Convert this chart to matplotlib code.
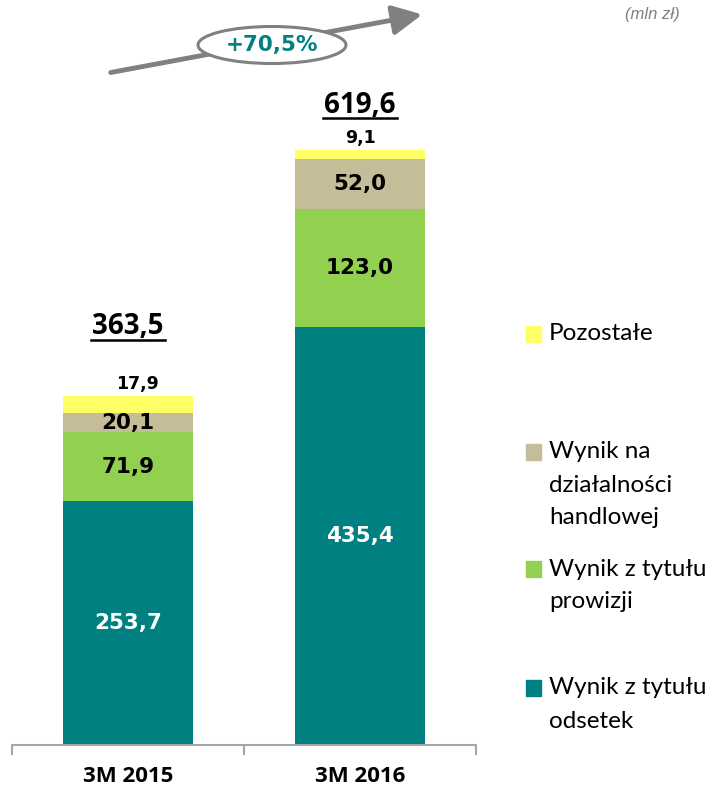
import numpy as np
import matplotlib.pyplot as plt
from matplotlib.patches import Ellipse, FancyArrowPatch, Rectangle
from matplotlib.lines import Line2D

# Data (mln zl)
categories = ['3M 2015', '3M 2016']
odsetki = [253.7, 435.4]
prowizje = [71.9, 123.0]
handlowa = [20.1, 52.0]
pozostale = [17.9, 9.1]
totals = ['363,5', '619,6']
growth = '+70,5%'

series = [odsetki, prowizje, handlowa, pozostale]
colors = ['#008080', '#92D050', '#C4BD97', '#FFFF66']
text_colors = ['white', 'black', 'black', 'black']
legend_labels = [['Wynik z tytułu', 'odsetek'],
                 ['Wynik z tytułu', 'prowizji'],
                 ['Wynik na', 'działalności', 'handlowej'],
                 ['Pozostałe']]

# layout helpers (pixels / data offsets)
total_offset = [72, 47]     # total label centre above bar top (data units)
legend_top = [688, 569, 452, 334]
line_pitch = 33

def fmt(v):
    return f'{v:.1f}'.replace('.', ',')

W, H = 714, 792
fig = plt.figure(figsize=(W / 100, H / 100), dpi=100)
ax = fig.add_axes([12 / W, 1 - 745 / H, 464 / W, 672 / H])

x = np.arange(len(categories))
bottom = np.zeros(len(categories))
for vals, col, tcol in zip(series, colors, text_colors):
    vals = np.array(vals)
    ax.bar(x, vals, 0.56, bottom=bottom, color=col, edgecolor='none')
    for xi, b, v in zip(x, bottom, vals):
        if col == '#FFFF66':
            # small segment -> label above the bar
            ax.text(xi + (0.04 if v > 10 else 0), b + v + 3, fmt(v),
                    ha='center', va='bottom', fontsize=12.5,
                    fontweight='bold', color='black', family='DejaVu Sans')
        else:
            ax.text(xi, b + v / 2, fmt(v), ha='center', va='center',
                    fontsize=15.5, fontweight='bold', color=tcol,
                    family='DejaVu Sans')
    bottom += vals

for xi, tot, t, off in zip(x, bottom, totals, total_offset):
    ax.text(xi, tot + off, t, ha='center', va='center', fontsize=20,
            fontweight='bold', color='black', family='Open Sans')
    ax.add_line(Line2D([xi - 0.16, xi + 0.16], [tot + off - 13.5] * 2,
                       color='black', lw=1.8))

ax.set_xlim(-0.5, 1.5)
ax.set_ylim(0, 700)
ax.set_xticks([-0.5, 0.5, 1.5])
ax.set_xticklabels([])
ax.set_xticks(x, minor=True)
ax.set_xticklabels(categories, minor=True, fontsize=16, fontweight='bold',
                   family='Open Sans')
ax.tick_params(axis='x', which='minor', length=0, pad=15)
ax.tick_params(axis='x', which='major', length=7, direction='out',
               color='#A6A6A6', width=1.5)
ax.set_yticks([])
for s in ['top', 'right', 'left']:
    ax.spines[s].set_visible(False)
ax.spines['bottom'].set_color('#A6A6A6')
ax.spines['bottom'].set_linewidth(1.5)

# growth arrow
fig.patches.append(FancyArrowPatch(
    (108 / W, 1 - 73 / H), (425 / W, 1 - 14 / H), transform=fig.transFigure,
    arrowstyle='-|>,head_length=18,head_width=9', color='#808080', lw=3.5,
    mutation_scale=1))
fig.patches.append(Ellipse((272 / W, 1 - 45 / H), 148 / W, 37 / H,
                           transform=fig.transFigure, facecolor='white',
                           edgecolor='#808080', lw=2.2))
fig.text(272 / W, 1 - 45 / H, growth, ha='center', va='center', fontsize=15.5,
         fontweight='bold', color='#008080', family='DejaVu Sans')
fig.text(680 / W, 1 - 15 / H, '(mln zł)', ha='right', va='center',
         fontsize=12, style='italic', color='#7F7F7F', family='Liberation Sans')

# legend
for ytop, col, lines in zip(legend_top, colors, legend_labels):
    fig.patches.append(Rectangle((526 / W, 1 - (ytop + 8) / H), 15 / W, 16 / H,
                                 transform=fig.transFigure, color=col))
    for i, line in enumerate(lines):
        fig.text(549 / W, 1 - (ytop + i * line_pitch) / H, line,
                 ha='left', va='center', fontsize=17.5, color='black',
                 family='Lato')

fig.savefig('out.png', dpi=100)
